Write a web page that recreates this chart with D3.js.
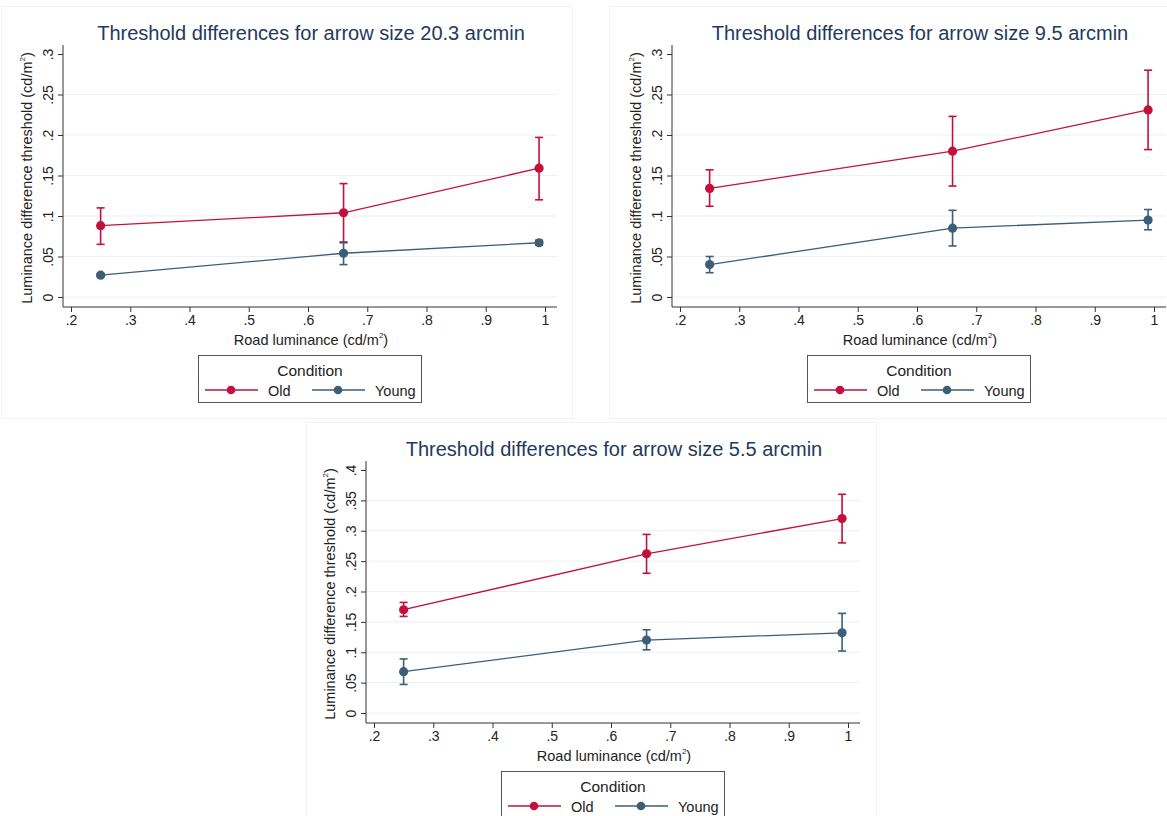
<!DOCTYPE html>
<html>
<head>
<meta charset="utf-8">
<script src="https://cdn.jsdelivr.net/npm/d3@7"></script>
<style>
  body { margin: 0; background: #fff; }
  svg { display: block; font-family: "Liberation Sans", Arial, sans-serif; }
</style>
</head>
<body>
<svg id="chart" width="1167" height="816"></svg>
<script>
// road luminance levels (x)
const luminance = [0.25, 0.66, 0.99];
const xTicks = [0.2, 0.3, 0.4, 0.5, 0.6, 0.7, 0.8, 0.9, 1];

const panelTitles = [
  "Threshold differences for arrow size 20.3 arcmin",
  "Threshold differences for arrow size 9.5 arcmin",
  "Threshold differences for arrow size 5.5 arcmin"
];
const yMax = [0.3, 0.3, 0.4];

// means and 95% CI per panel
const oldMean = [[0.088, 0.104, 0.159], [0.134, 0.180, 0.231], [0.170, 0.262, 0.320]];
const oldLo   = [[0.065, 0.067, 0.120], [0.112, 0.137, 0.182], [0.159, 0.230, 0.280]];
const oldHi   = [[0.110, 0.140, 0.197], [0.157, 0.223, 0.280], [0.182, 0.294, 0.360]];

const youngMean = [[0.027, 0.054, 0.067], [0.040, 0.085, 0.095], [0.068, 0.120, 0.132]];
const youngLo   = [[0.025, 0.040, 0.064], [0.030, 0.063, 0.083], [0.047, 0.104, 0.102]];
const youngHi   = [[0.029, 0.068, 0.070], [0.050, 0.107, 0.108], [0.089, 0.137, 0.164]];

const seriesNames = ["Old", "Young"];
const seriesColors = ["#c4103d", "#3d5e77"];

const svg = d3.select("#chart");

// panel origins (pixel offsets of identical layouts)
const offsets = [[0, 0], [609, 0], [303, 416]];
const frames = [[1, 6, 571, 412], [609, 6, 600, 412], [306, 422, 570, 420]];

frames.forEach(f => {
  svg.append("rect").attr("x", f[0] + 0.5).attr("y", f[1] + 0.5)
    .attr("width", f[2]).attr("height", f[3])
    .attr("fill", "none").attr("stroke", "#f2f2f2");
});

function drawPanel(i) {
  const [ox, oy] = offsets[i];
  const g = svg.append("g").attr("transform", `translate(${ox},${oy})`);
  const axL = 63, axB = 307, axR = 557, axT = 45;

  const x = d3.scaleLinear().domain([0.2, 1]).range([71, 545]);
  const y = d3.scaleLinear().domain([0, yMax[i]]).range([297, 54]);
  const yTicks = d3.range(0, yMax[i] + 1e-9, 0.05).map(v => +v.toFixed(2));
  const fmt = v => v === 0 ? "0" : v === 1 ? "1" : String(v).replace(/^0/, "");

  // gridlines
  g.selectAll("line.grid").data(yTicks.filter(v => v < yMax[i] - 1e-9)).enter()
    .append("line").attr("class", "grid")
    .attr("x1", axL).attr("x2", axR)
    .attr("y1", d => y(d)).attr("y2", d => y(d))
    .attr("stroke", "#e9f1f3").attr("stroke-width", 1);

  // y axis
  const yAxis = g.append("g").attr("transform", `translate(${axL},0)`)
    .call(d3.axisLeft(y).tickValues(yTicks).tickFormat(fmt).tickSize(5).tickPadding(4));
  yAxis.select(".domain").attr("d", `M0,${axT}V${axB}`).attr("stroke", "#333");
  yAxis.selectAll(".tick line").attr("stroke", "#333");
  yAxis.selectAll(".tick text")
    .attr("font-size", 14).attr("fill", "#222")
    .attr("transform", "rotate(-90)").attr("x", 0).attr("y", -10)
    .attr("dy", "0").attr("text-anchor", "middle");

  // x axis
  const xAxis = g.append("g").attr("transform", `translate(0,${axB})`)
    .call(d3.axisBottom(x).tickValues(xTicks).tickFormat(fmt).tickSize(5).tickPadding(3));
  xAxis.select(".domain").attr("d", `M${axL},0H${axR}`).attr("stroke", "#333");
  xAxis.selectAll(".tick line").attr("stroke", "#333");
  xAxis.selectAll(".tick text").attr("font-size", 14).attr("fill", "#222");

  // titles
  g.append("text").attr("x", 311).attr("y", 40).attr("text-anchor", "middle")
    .attr("font-size", 20).attr("fill", "#1f3a5c").text(panelTitles[i]);

  const xl = g.append("text").attr("x", 311).attr("y", 345).attr("text-anchor", "middle")
    .attr("font-size", 14.5).attr("fill", "#222");
  xl.append("tspan").text("Road luminance (cd/m");
  xl.append("tspan").attr("font-size", 8).attr("dy", -7).text("2");
  xl.append("tspan").attr("dy", 7).text(")");

  const yl = g.append("text").attr("transform", `translate(32,${(axT + axB) / 2 + 2}) rotate(-90)`)
    .attr("text-anchor", "middle").attr("font-size", 14.5).attr("fill", "#222");
  yl.append("tspan").text("Luminance difference threshold (cd/m");
  yl.append("tspan").attr("font-size", 8).attr("dy", -7).text("2");
  yl.append("tspan").attr("dy", 7).text(")");

  // series
  const sets = [
    { mean: oldMean[i], lo: oldLo[i], hi: oldHi[i], color: seriesColors[0] },
    { mean: youngMean[i], lo: youngLo[i], hi: youngHi[i], color: seriesColors[1] }
  ];
  sets.forEach(s => {
    const pts = luminance.map((lx, k) => ({ x: lx, m: s.mean[k], lo: s.lo[k], hi: s.hi[k] }));
    g.append("path").datum(pts)
      .attr("d", d3.line().x(d => x(d.x)).y(d => y(d.m)))
      .attr("fill", "none").attr("stroke", s.color).attr("stroke-width", 1.3);
    const eb = g.append("g").selectAll("g").data(pts).enter().append("g");
    eb.append("line").attr("x1", d => x(d.x)).attr("x2", d => x(d.x))
      .attr("y1", d => y(d.lo)).attr("y2", d => y(d.hi))
      .attr("stroke", s.color).attr("stroke-width", 1.6);
    ["lo", "hi"].forEach(k => {
      eb.append("line").attr("x1", d => x(d.x) - 4).attr("x2", d => x(d.x) + 4)
        .attr("y1", d => y(d[k])).attr("y2", d => y(d[k]))
        .attr("stroke", s.color).attr("stroke-width", 1.6);
    });
    eb.append("circle").attr("cx", d => x(d.x)).attr("cy", d => y(d.m)).attr("r", 4.6)
      .attr("fill", s.color);
  });

  // legend
  const lg = g.append("g").attr("transform", "translate(198,355)");
  lg.append("rect").attr("x", 0.5).attr("y", 0.5).attr("width", 223).attr("height", 47)
    .attr("fill", "#fff").attr("stroke", "#555");
  lg.append("text").attr("x", 112).attr("y", 21).attr("text-anchor", "middle")
    .attr("font-size", 15.5).attr("fill", "#222").text("Condition");
  const items = [{ x0: 7 }, { x0: 114 }];
  items.forEach((it, k) => {
    lg.append("line").attr("x1", it.x0).attr("x2", it.x0 + 53).attr("y1", 35).attr("y2", 35)
      .attr("stroke", seriesColors[k]).attr("stroke-width", 1.3);
    lg.append("circle").attr("cx", it.x0 + 26).attr("cy", 35).attr("r", 4.3).attr("fill", seriesColors[k]);
    lg.append("text").attr("x", it.x0 + 63).attr("y", 40.5).attr("font-size", 14.5)
      .attr("fill", "#222").text(seriesNames[k]);
  });
}

[0, 1, 2].forEach(drawPanel);
</script>
</body>
</html>
